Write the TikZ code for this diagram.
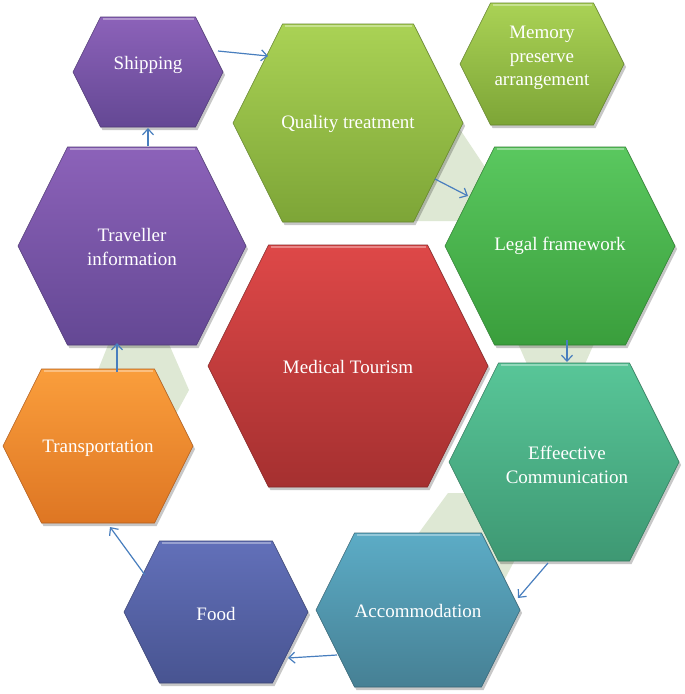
\documentclass[tikz,border=0pt]{standalone}
\usepackage{fontspec}
\setmainfont{Liberation Serif}
\usetikzlibrary{arrows.meta}
\definecolor{paleg}{RGB}{222,232,212}
\definecolor{arrowc}{RGB}{72,126,190}
\definecolor{purT}{RGB}{140,98,185}\definecolor{purB}{RGB}{100,72,148}
\definecolor{lgT}{RGB}{170,210,85}\definecolor{lgB}{RGB}{125,165,55}
\definecolor{grT}{RGB}{90,200,95}\definecolor{grB}{RGB}{58,158,60}
\definecolor{reT}{RGB}{222,72,72}\definecolor{reB}{RGB}{165,48,48}
\definecolor{orT}{RGB}{250,158,60}\definecolor{orB}{RGB}{222,118,35}
\definecolor{teT}{RGB}{88,198,152}\definecolor{teB}{RGB}{62,152,115}
\definecolor{acT}{RGB}{92,172,198}\definecolor{acB}{RGB}{70,128,148}
\definecolor{foT}{RGB}{98,112,185}\definecolor{foB}{RGB}{72,84,145}
\newcommand{\hexpath}[5]{({#1-#3},{#2}) -- ({#1-#3+#5},{#2-#4}) -- ({#1+#3-#5},{#2-#4}) -- ({#1+#3},{#2}) -- ({#1+#3-#5},{#2+#4}) -- ({#1-#3+#5},{#2+#4}) -- cycle}
% #1 cx #2 cy #3 hw #4 hh #5 inset #6 colour prefix
\newcommand{\hexdraw}[6]{%
  \fill[black,opacity=.22,shift={(2,3)}] \hexpath{#1}{#2}{#3}{#4}{#5};
  \shade[top color=#6T,bottom color=#6B,draw=#6B!80!black,line width=.6pt] \hexpath{#1}{#2}{#3}{#4}{#5};
  \draw[white,opacity=.35,line width=1.5pt] ({#1-#3+#5+2},{#2-#4+2}) -- ({#1+#3-#5-2},{#2-#4+2});
}
\tikzset{
  hexlabel/.style={text=white,align=center,font=\fontsize{19}{23.5}\selectfont,inner sep=0pt},
  flow/.style={draw=arrowc,line width=1.2pt,-{Straight Barb[length=6pt,width=11pt]}},
  pale/.style={fill=paleg,draw=none}
}
\begin{document}
\begin{tikzpicture}[x=1pt,y=-1pt]
\useasboundingbox (0,0) rectangle (685,694);
\fill[white] (0,0) rectangle (685,694);
% pale background pieces
\path[pale] (380,80) -- (427,80) -- (515,212) -- (515,221) -- (400,221) -- cycle;
\path[pale] (512,330) -- (600,330) -- (585,364) -- (527,364) -- cycle;
\path[pale] (448,493) -- (497,493) -- (528,535) -- (499,590) -- (430,590) -- (410,545) -- cycle;
\path[pale] (112,335) -- (165,335) -- (189,390) -- (170,425) -- (110,425) -- (90,390) -- cycle;
% hexagons
\hexdraw{148}{72}{75}{55}{27.5}{pur}
\hexdraw{348}{123}{115}{99}{49.5}{lg}
\hexdraw{542}{64}{82}{61}{30.5}{lg}
\hexdraw{560}{246}{115}{99}{49.5}{gr}
\hexdraw{132}{246}{114}{99}{49.5}{pur}
\hexdraw{348}{366}{140}{121}{60.5}{re}
\hexdraw{98}{446}{95}{77}{38.5}{or}
\hexdraw{564}{462}{115}{99}{49.5}{te}
\hexdraw{418}{610}{102}{77}{38.5}{ac}
\hexdraw{216}{612}{92}{71}{35.5}{fo}
% labels
\node[hexlabel] (ship) at (148,65) {Shipping};
\node[hexlabel] (qual) at (348,124) {Quality treatment};
\node[hexlabel] (mem) at (542,58) {Memory\\preserve\\arrangement};
\node[hexlabel] (legal) at (560,246) {Legal framework};
\node[hexlabel] (trav) at (132,247) {Traveller\\information};
\node[hexlabel] (med) at (348,367) {Medical Tourism};
\node[hexlabel] (trans) at (98,448) {Transportation};
\node[hexlabel] (eff) at (567,465) {Effeective\\Communication};
\node[hexlabel] (acc) at (418,611) {Accommodation};
\node[hexlabel] (food) at (216,614) {Food};
% connector ends
\coordinate (trav-out) at (148,146); \coordinate (ship-in) at (148,128);
\coordinate (ship-out) at (218,51); \coordinate (qual-in) at (268,56);
\coordinate (qual-out) at (435,179); \coordinate (legal-in) at (468,196);
\coordinate (legal-out) at (567,340); \coordinate (eff-in) at (567,362);
\coordinate (eff-out) at (548,563); \coordinate (acc-in) at (518,598);
\coordinate (acc-out) at (337,655); \coordinate (food-in) at (288,658);
\coordinate (food-out) at (145,575); \coordinate (trans-in) at (110,527);
\coordinate (trans-out) at (117,372); \coordinate (trav-in) at (117,343);
\draw[flow] (trav-out) -- (ship-in);
\draw[flow] (ship-out) -- (qual-in);
\draw[flow] (qual-out) -- (legal-in);
\draw[flow] (legal-out) -- (eff-in);
\draw[flow] (eff-out) -- (acc-in);
\draw[flow] (acc-out) -- (food-in);
\draw[flow] (food-out) -- (trans-in);
\draw[flow] (trans-out) -- (trav-in);
\end{tikzpicture}
\end{document}
